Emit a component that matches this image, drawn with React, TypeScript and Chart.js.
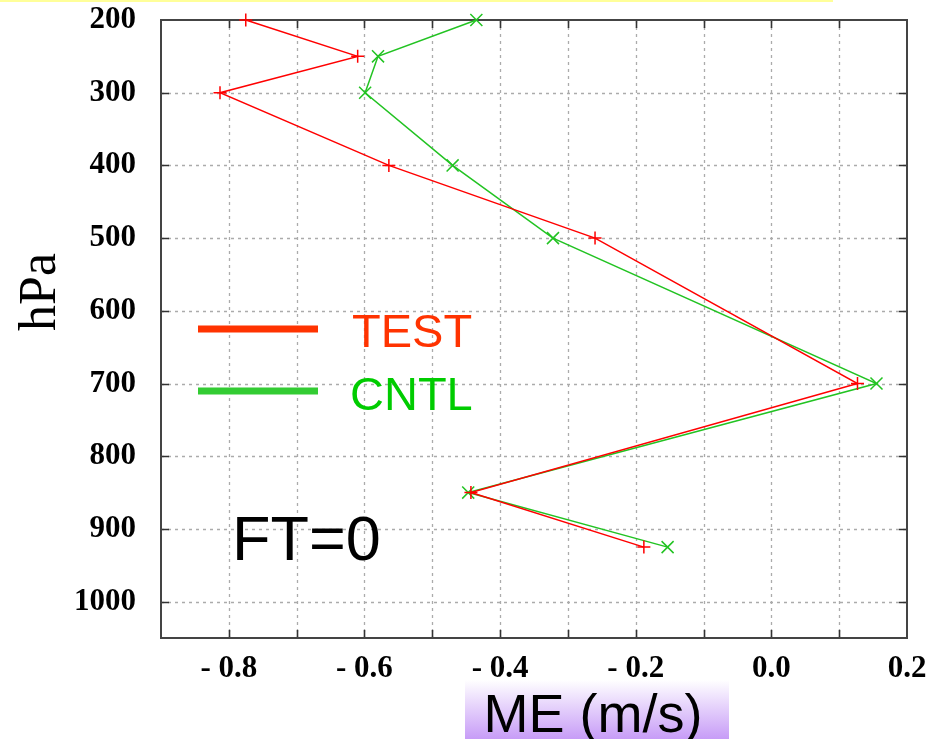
import React, { useEffect, useRef } from 'react';
import { Chart, registerables } from 'chart.js';

Chart.register(...registerables);

// ---- data ----
const pressureLevels = [200, 250, 300, 400, 500, 700, 850, 925];
const testME = [-0.775, -0.61, -0.813, -0.564, -0.26, 0.127, -0.443, -0.188];
const cntlME = [-0.435, -0.58, -0.599, -0.47, -0.322, 0.155, -0.447, -0.153];
const seriesNames = ['TEST', 'CNTL'];

const xTickValues = [-0.8, -0.6, -0.4, -0.2, 0, 0.2];
const xTickLabels = ['- 0.8', '- 0.6', '- 0.4', '- 0.2', '0.0', '0.2'];
const xGridValues = [-0.8, -0.7, -0.6, -0.5, -0.4, -0.3, -0.2, -0.1, 0, 0.1];
const yTickValues = [200, 300, 400, 500, 600, 700, 800, 900, 1000];
const yTickLabels = ['200', '300', '400', '500', '600', '700', '800', '900', '1000'];
const yGridValues = [300, 400, 500, 600, 700, 800, 900, 1000];

const xTitle = 'ME (m/s)';
const yTitle = 'hPa';
const panelLabel = 'FT=0';

const decorPlugin = {
  id: 'decor',
  beforeDraw(chart: any) {
    const ctx = chart.ctx as CanvasRenderingContext2D;
    ctx.save();
    ctx.fillStyle = '#ffffff';
    ctx.fillRect(0, 0, chart.width, chart.height);
    // thin yellow strip at top
    ctx.fillStyle = '#ffff99';
    ctx.fillRect(0, 0, 833, 2);
    // gradient box behind x title
    const g = ctx.createLinearGradient(0, 680, 0, 739);
    g.addColorStop(0, '#ffffff');
    g.addColorStop(1, '#c79cf7');
    ctx.fillStyle = g;
    ctx.fillRect(465, 680, 264, 59);
    ctx.fillStyle = '#000000';
    ctx.font = '54px "Liberation Sans", Arial, sans-serif';
    ctx.textAlign = 'center';
    ctx.textBaseline = 'alphabetic';
    ctx.fillText(xTitle, 593, 732);
    // y title
    ctx.translate(55, 292);
    ctx.rotate(-Math.PI / 2);
    ctx.font = '52px "Liberation Serif", "Times New Roman", serif';
    ctx.textAlign = 'center';
    ctx.fillText(yTitle, 0, 0);
    ctx.restore();
  },
  beforeDatasetsDraw(chart: any) {
    const ctx = chart.ctx as CanvasRenderingContext2D;
    const { left, right, top, bottom } = chart.chartArea;
    const xs = chart.scales.x;
    const ys = chart.scales.y;
    ctx.save();
    // dashed grid
    ctx.strokeStyle = '#ababab';
    ctx.lineWidth = 1.3;
    ctx.setLineDash([3, 4]);
    xGridValues.forEach((v) => {
      const px = Math.round(xs.getPixelForValue(v)) + 0.5;
      ctx.beginPath();
      ctx.moveTo(px, top);
      ctx.lineTo(px, bottom);
      ctx.stroke();
    });
    yGridValues.forEach((v) => {
      const py = Math.round(ys.getPixelForValue(v)) + 0.5;
      ctx.beginPath();
      ctx.moveTo(left, py);
      ctx.lineTo(right, py);
      ctx.stroke();
    });
    ctx.setLineDash([]);
    // inner ticks
    ctx.strokeStyle = '#333333';
    ctx.lineWidth = 1.6;
    const tl = 8;
    xGridValues.forEach((v) => {
      const px = Math.round(xs.getPixelForValue(v)) + 0.5;
      ctx.beginPath();
      ctx.moveTo(px, top);
      ctx.lineTo(px, top + tl);
      ctx.moveTo(px, bottom);
      ctx.lineTo(px, bottom - tl);
      ctx.stroke();
    });
    yGridValues.forEach((v) => {
      const py = Math.round(ys.getPixelForValue(v)) + 0.5;
      ctx.beginPath();
      ctx.moveTo(left, py);
      ctx.lineTo(left + tl, py);
      ctx.moveTo(right, py);
      ctx.lineTo(right - tl, py);
      ctx.stroke();
    });
    // frame
    ctx.strokeStyle = '#444444';
    ctx.lineWidth = 2;
    ctx.strokeRect(left, top, right - left, bottom - top);
    ctx.restore();
  },
  afterDraw(chart: any) {
    const ctx = chart.ctx as CanvasRenderingContext2D;
    ctx.save();
    // legend
    ctx.lineWidth = 7;
    ctx.strokeStyle = '#ff3300';
    ctx.beginPath();
    ctx.moveTo(198, 329);
    ctx.lineTo(318, 329);
    ctx.stroke();
    ctx.strokeStyle = '#33cc33';
    ctx.beginPath();
    ctx.moveTo(198, 391);
    ctx.lineTo(318, 391);
    ctx.stroke();
    ctx.font = '47px "Liberation Sans", Arial, sans-serif';
    ctx.textAlign = 'left';
    ctx.textBaseline = 'alphabetic';
    ctx.fillStyle = '#ff3300';
    ctx.fillText(seriesNames[0], 352, 347);
    ctx.fillStyle = '#00cc00';
    ctx.fillText(seriesNames[1], 350, 410);
    // panel label
    ctx.fillStyle = '#000000';
    ctx.font = '63px "Liberation Sans", Arial, sans-serif';
    ctx.fillText(panelLabel, 232, 560);
    ctx.restore();
  },
};

export default function App() {
  const canvasRef = useRef<HTMLCanvasElement | null>(null);

  useEffect(() => {
    const canvas = canvasRef.current;
    if (!canvas) return;
    const tickFont = { family: '"Liberation Serif", "Times New Roman", serif', size: 31, weight: 'bold' as const };
    const chart = new Chart(canvas, {
      type: 'scatter',
      data: {
        datasets: [
          {
            label: seriesNames[0],
            data: pressureLevels.map((p, i) => ({ x: testME[i], y: p })),
            showLine: true,
            borderColor: '#ff0000',
            backgroundColor: '#ff0000',
            borderWidth: 1.5,
            pointStyle: 'cross',
            pointRadius: 6.5,
            pointBorderWidth: 1.5,
            pointBorderColor: '#ff0000',
            clip: false,
          },
          {
            label: seriesNames[1],
            data: pressureLevels.map((p, i) => ({ x: cntlME[i], y: p })),
            showLine: true,
            borderColor: '#22c322',
            backgroundColor: '#22c322',
            borderWidth: 1.5,
            pointStyle: 'crossRot',
            pointRadius: 8.5,
            pointBorderWidth: 1.5,
            pointBorderColor: '#22c322',
            clip: false,
          },
        ],
      },
      options: {
        responsive: false,
        animation: false,
        maintainAspectRatio: false,
        layout: { padding: { top: 20, right: 27, left: 0, bottom: 0 } },
        plugins: {
          legend: { display: false },
          tooltip: { enabled: false },
        },
        scales: {
          x: {
            type: 'linear',
            min: -0.9,
            max: 0.2,
            grid: { display: false },
            border: { display: false },
            afterBuildTicks: (scale: any) => {
              scale.ticks = xTickValues.map((v) => ({ value: v }));
            },
            afterFit: (scale: any) => {
              scale.height = 101;
              scale.paddingLeft = 0;
              scale.paddingRight = 0;
            },
            ticks: {
              autoSkip: false,
              maxRotation: 0,
              minRotation: 0,
              padding: 4,
              color: '#000000',
              font: tickFont,
              callback: (v: any) => {
                const idx = xTickValues.findIndex((t) => Math.abs(t - Number(v)) < 1e-6);
                return idx >= 0 ? xTickLabels[idx] : '';
              },
            },
          },
          y: {
            type: 'linear',
            reverse: true,
            min: 200,
            max: 1050,
            grid: { display: false },
            border: { display: false },
            afterBuildTicks: (scale: any) => {
              scale.ticks = yTickValues.map((v) => ({ value: v }));
            },
            afterFit: (scale: any) => {
              scale.width = 161;
              scale.paddingTop = 0;
              scale.paddingBottom = 0;
            },
            ticks: {
              autoSkip: false,
              padding: 17,
              color: '#000000',
              font: tickFont,
              callback: (v: any) => {
                const idx = yTickValues.indexOf(Number(v));
                return idx >= 0 ? yTickLabels[idx] : '';
              },
            },
          },
        },
      },
      plugins: [decorPlugin],
    });
    return () => {
      chart.destroy();
    };
  }, []);

  return (
    <div style={{ position: 'absolute', left: 0, top: 0, width: 934, height: 739 }}>
      <canvas ref={canvasRef} width={934} height={739} style={{ display: 'block' }} />
    </div>
  );
}
